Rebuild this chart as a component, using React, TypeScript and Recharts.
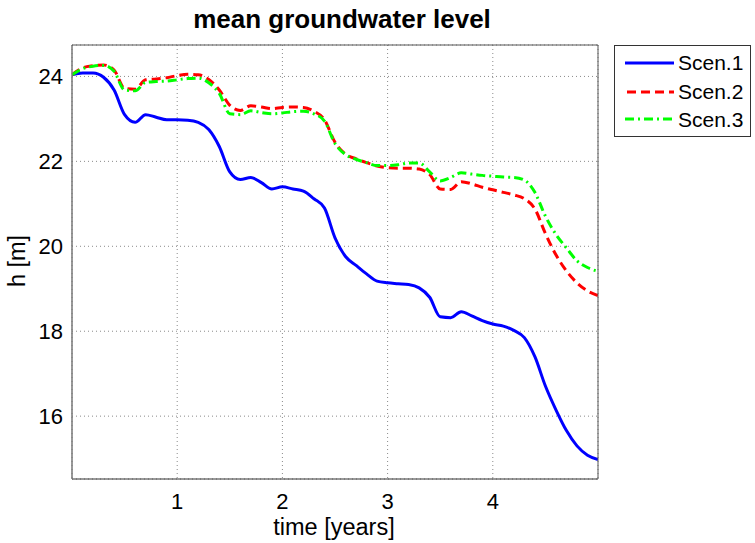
import { LineChart, Line, XAxis, YAxis, CartesianGrid } from 'recharts';

// time axis (years) shared by all scenarios
const years = [
  0, 0.1, 0.2, 0.3, 0.4, 0.5, 0.6, 0.7, 0.8, 0.9,
  1.0, 1.1, 1.2, 1.3, 1.4, 1.5, 1.6, 1.7, 1.8, 1.9,
  2.0, 2.1, 2.2, 2.3, 2.4, 2.5, 2.6, 2.7, 2.8, 2.9,
  3.0, 3.1, 3.2, 3.3, 3.4, 3.5, 3.6, 3.7, 3.8, 3.9,
  4.0, 4.1, 4.2, 4.3, 4.4, 4.5, 4.6, 4.7, 4.8, 4.9, 5.0,
];

const scen1 = [
  24.04, 24.08, 24.08, 23.98, 23.68, 23.1, 22.92, 23.1, 23.04, 22.98,
  22.98, 22.97, 22.92, 22.75, 22.35, 21.75, 21.57, 21.62, 21.5, 21.35,
  21.4, 21.35, 21.3, 21.12, 20.9, 20.2, 19.76, 19.55, 19.35, 19.18,
  19.14, 19.12, 19.1, 19.02, 18.8, 18.34, 18.32, 18.46, 18.36, 18.25,
  18.17, 18.12, 18.02, 17.85, 17.4, 16.71, 16.15, 15.66, 15.3, 15.08, 14.98,
];

const scen2 = [
  24.04, 24.2, 24.25, 24.27, 24.15, 23.72, 23.7, 23.92, 23.94, 23.97,
  24.02, 24.05, 24.04, 23.93, 23.68, 23.32, 23.2, 23.31, 23.28, 23.24,
  23.27, 23.28, 23.27, 23.18, 22.98, 22.45, 22.17, 22.06, 21.97, 21.89,
  21.85, 21.84, 21.84, 21.82, 21.69, 21.35, 21.34, 21.52, 21.47, 21.39,
  21.33, 21.27, 21.21, 21.12, 20.88, 20.3, 19.8, 19.42, 19.14, 18.95, 18.84,
];

const scen3 = [
  24.04, 24.18, 24.24, 24.26, 24.12, 23.68, 23.66, 23.86, 23.88, 23.89,
  23.92, 23.95, 23.96, 23.85, 23.6, 23.12, 23.1, 23.19, 23.15, 23.12,
  23.14, 23.17, 23.18, 23.12, 22.95, 22.42, 22.16, 22.05, 21.97, 21.9,
  21.9, 21.92, 21.96, 21.96, 21.75, 21.54, 21.62, 21.73, 21.7, 21.67,
  21.65, 21.63, 21.62, 21.56, 21.27, 20.71, 20.28, 19.96, 19.66, 19.5, 19.41,
];

const seriesNames = ['Scen.1', 'Scen.2', 'Scen.3'];
const xTicks = [1, 2, 3, 4];
const yTicks = [16, 18, 20, 22, 24];

const data = years.map((t, i) => ({ t, s1: scen1[i], s2: scen2[i], s3: scen3[i] }));

const FONT = '"Liberation Sans", Arial, sans-serif';
const xDomain = [0, 5];
const yDomain = [14.52, 24.74];

// custom tick text so the font size really sticks
const XTick = (p: any) => (
  <text x={p.x} y={p.y + 28} textAnchor="middle" fontSize={22} fontFamily={FONT} fill="#000">
    {p.payload.value}
  </text>
);
const YTick = (p: any) => (
  <text x={p.x - 7} y={p.y + 8} textAnchor="end" fontSize={22} fontFamily={FONT} fill="#000">
    {p.payload.value}
  </text>
);

export default function App() {
  return (
    <div style={{ position: 'absolute', left: 0, top: 0, width: 755, height: 543, background: '#fff', fontFamily: FONT }}>
      <LineChart width={755} height={543} data={data} margin={{ top: 45, right: 157, bottom: 0, left: 0 }}>
        <CartesianGrid stroke="#8a8a8a" strokeDasharray="1 3" />

        {/* main axes with labels */}
        <XAxis
          dataKey="t"
          type="number"
          domain={xDomain}
          ticks={xTicks}
          allowDataOverflow
          height={64}
          tickLine={false}
          tickSize={0}
          axisLine={{ stroke: '#333', strokeWidth: 1 }}
          tick={<XTick />}
        />
        <YAxis
          type="number"
          domain={yDomain}
          ticks={yTicks}
          allowDataOverflow
          width={72}
          tickLine={false}
          tickSize={0}
          axisLine={{ stroke: '#777', strokeWidth: 1.5 }}
          tick={<YTick />}
        />

        {/* inward ticks + box (matlab style) */}
        <XAxis xAxisId="bm" dataKey="t" type="number" domain={xDomain} ticks={xTicks} allowDataOverflow
          orientation="bottom" mirror tick={false} axisLine={false} tickSize={5} tickLine={{ stroke: '#444' }} />
        <XAxis xAxisId="tm" dataKey="t" type="number" domain={xDomain} ticks={xTicks} allowDataOverflow
          orientation="top" mirror tick={false} axisLine={{ stroke: '#555' }} tickSize={5} tickLine={{ stroke: '#444' }} />
        <YAxis yAxisId="lm" type="number" domain={yDomain} ticks={yTicks} allowDataOverflow
          orientation="left" mirror tick={false} axisLine={false} tickSize={5} tickLine={{ stroke: '#444' }} />
        <YAxis yAxisId="rm" type="number" domain={yDomain} ticks={yTicks} allowDataOverflow
          orientation="right" mirror tick={false} axisLine={{ stroke: '#555' }} tickSize={5} tickLine={{ stroke: '#444' }} />

        <Line type="monotone" dataKey="s1" name={seriesNames[0]} stroke="#0000FF" strokeWidth={3} dot={false} isAnimationActive={false} />
        <Line type="monotone" dataKey="s2" name={seriesNames[1]} stroke="#FF0000" strokeWidth={3} strokeDasharray="9 5" dot={false} isAnimationActive={false} />
        <Line type="monotone" dataKey="s3" name={seriesNames[2]} stroke="#00FF00" strokeWidth={3} strokeDasharray="9 4 2 4" dot={false} isAnimationActive={false} />
      </LineChart>

      {/* title, axis labels and legend */}
      <svg width={755} height={543} style={{ position: 'absolute', left: 0, top: 0, pointerEvents: 'none' }}>
        <text x={342} y={28} textAnchor="middle" fontSize={26} fontWeight="bold" fontFamily={FONT}>
          mean groundwater level
        </text>
        <text x={334} y={535} textAnchor="middle" fontSize={23.5} fontFamily={FONT}>
          time [years]
        </text>
        <text x={0} y={0} transform="translate(25,261) rotate(-90)" textAnchor="middle" fontSize={23.5} fontFamily={FONT}>
          h [m]
        </text>

        <rect x={614.5} y={45.5} width={136} height={91} fill="#fff" stroke="#333" />
        <line x1={625} x2={674} y1={63} y2={63} stroke="#0000FF" strokeWidth={3} />
        <line x1={627} x2={674} y1={92} y2={92} stroke="#FF0000" strokeWidth={3} strokeDasharray="9 5" />
        <line x1={625} x2={674} y1={119} y2={119} stroke="#00FF00" strokeWidth={3} strokeDasharray="9 4 2 4" />
        {seriesNames.map((n, i) => (
          <text key={n} x={678} y={70 + i * 28.5} fontSize={21} fontFamily={FONT}>{n}</text>
        ))}
      </svg>
    </div>
  );
}
